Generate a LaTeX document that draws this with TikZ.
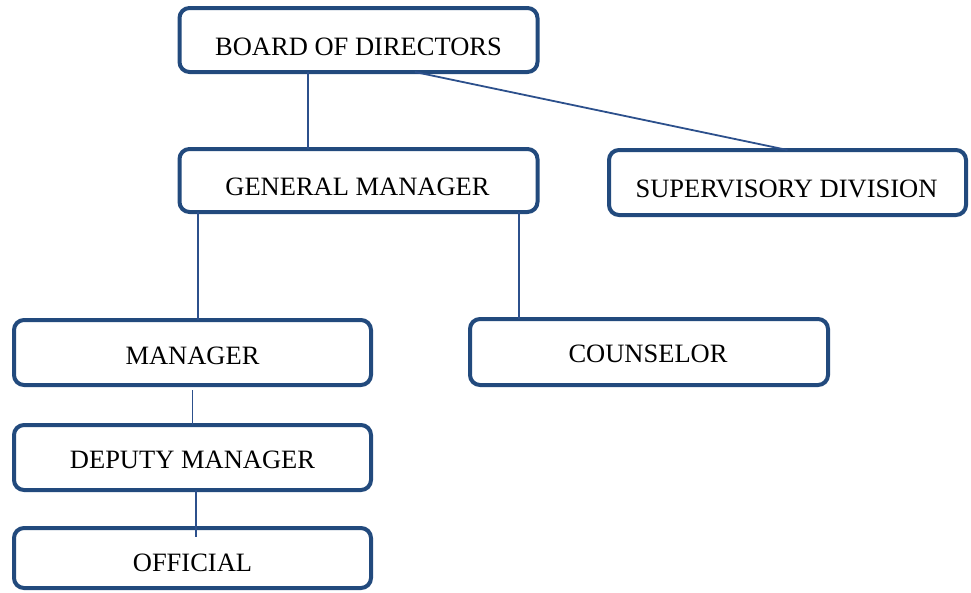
\documentclass[tikz,border=0pt]{standalone}
\usepackage{fontspec}
\setmainfont{Liberation Serif}
\definecolor{boxblue}{RGB}{34,74,125}
\definecolor{lineblue}{RGB}{44,80,140}
\begin{document}
\begin{tikzpicture}[x=1pt,y=-1pt,
  orgbox/.style={draw=boxblue, line width=4pt, rounded corners=10pt, fill=white,
    inner sep=0pt, outer sep=0pt, minimum width=358pt, minimum height=64pt},
  lbl/.style={anchor=base, inner sep=0pt, font=\fontsize{26.5}{30}\selectfont},
  conn/.style={draw=lineblue, line width=1.8pt}]
\useasboundingbox (0,0) rectangle (971,592);
% boxes
\node[orgbox] (board) at (358.5,40) {};
\node[orgbox, minimum height=63pt] (gm) at (358.5,180.5) {};
\node[orgbox, minimum width=357pt, minimum height=65pt] (sup) at (787.5,182.5) {};
\node[orgbox, minimum width=357pt, minimum height=65pt] (mgr) at (192.5,352.5) {};
\node[orgbox, minimum height=66pt] (couns) at (649,352) {};
\node[orgbox, minimum width=357pt, minimum height=65pt] (dep) at (192.5,457.5) {};
\node[orgbox, minimum width=357pt, minimum height=60pt] (off) at (192.5,558) {};
% texts
\node[lbl] (tboard) at (358.5,55) {BOARD OF DIRECTORS};
\node[lbl] (tgm) at (357.5,195) {GENERAL MANAGER};
\node[lbl] (tsup) at (786.5,197) {SUPERVISORY DIVISION};
\node[lbl] (tmgr) at (192.5,364) {MANAGER};
\node[lbl] (tcouns) at (648,362) {COUNSELOR};
\node[lbl] (tdep) at (192.5,468) {DEPUTY MANAGER};
\node[lbl] (toff) at (192.5,571) {OFFICIAL};
% connectors
\coordinate (offend) at ([xshift=3.5pt,yshift=-9pt]off.north);
\draw[conn] ([xshift=-50.5pt]board.south) -- ([xshift=-50.5pt]gm.north);
\draw[conn] ([xshift=56.5pt]board.south) -- (sup.north);
\draw[conn] ([xshift=-160.5pt]gm.south) -- ([xshift=5.5pt]mgr.north);
\draw[conn] ([xshift=160.5pt]gm.south) -- ([xshift=-130pt]couns.north);
\draw[conn] ([yshift=-5pt]mgr.south) -- (dep.north);
\draw[conn] ([xshift=3.5pt]dep.south) -- (offend);
\end{tikzpicture}
\end{document}
